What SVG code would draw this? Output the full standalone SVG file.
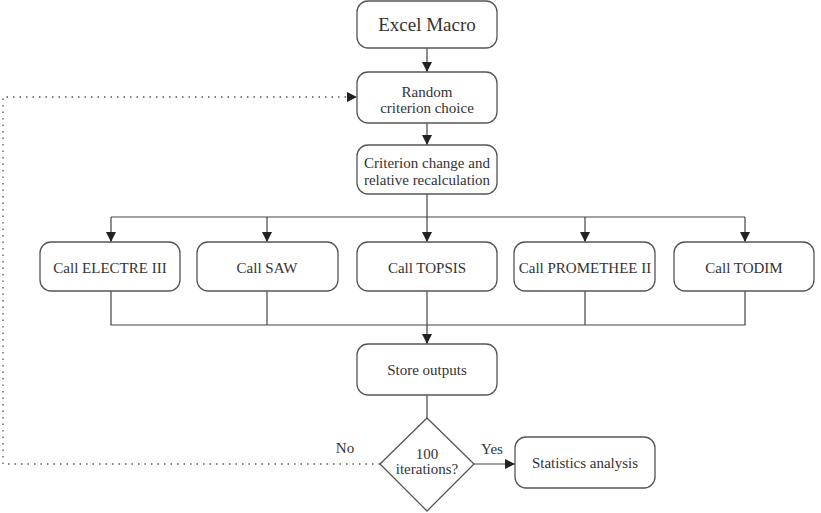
<svg xmlns="http://www.w3.org/2000/svg" width="821" height="513" viewBox="0 0 821 513">
<defs>
<marker id="ah" viewBox="0 0 10 10" refX="10" refY="5" markerWidth="10" markerHeight="10" markerUnits="userSpaceOnUse" orient="auto">
<path d="M0,0 L10,5 L0,10 z" fill="#222"/>
</marker>
</defs>
<style>
.box{fill:#fff;stroke:#555;stroke-width:1.3}
.ln{fill:none;stroke:#444;stroke-width:1.2}
.dot{fill:none;stroke:#555;stroke-width:1.3;stroke-dasharray:1.5 5}
text{font-family:'Liberation Serif','DejaVu Serif',serif;fill:#333;font-size:15px;text-anchor:middle}
</style>
<rect width="821" height="513" fill="#fff"/>
<g id="connectors">
<line class="ln" x1="427" y1="48" x2="427" y2="72" marker-end="url(#ah)"/>
<line class="ln" x1="427" y1="123" x2="427" y2="145" marker-end="url(#ah)"/>
<line class="ln" x1="427" y1="194" x2="427" y2="242" marker-end="url(#ah)"/>
<line class="ln" x1="111" y1="217" x2="745" y2="217"/>
<line class="ln" x1="111" y1="217" x2="111" y2="242" marker-end="url(#ah)"/>
<line class="ln" x1="267" y1="217" x2="267" y2="242" marker-end="url(#ah)"/>
<line class="ln" x1="585" y1="217" x2="585" y2="242" marker-end="url(#ah)"/>
<line class="ln" x1="745" y1="217" x2="745" y2="242" marker-end="url(#ah)"/>
<polyline class="ln" points="111,291 111,325 745,325 745,291"/>
<line class="ln" x1="267" y1="291" x2="267" y2="325"/>
<line class="ln" x1="585" y1="291" x2="585" y2="325"/>
<line class="ln" x1="427" y1="291" x2="427" y2="344" marker-end="url(#ah)"/>
<line class="ln" x1="427" y1="395" x2="427" y2="418"/>
<line class="ln" x1="474" y1="464" x2="515" y2="464" marker-end="url(#ah)"/>
<polyline class="dot" points="380,464 3,464 3,97 348,97"/>
<path d="M347,92 L357,97 L347,102 z" fill="#222"/>
<text x="492" y="454">Yes</text>
<text x="345" y="453">No</text>
</g>
<g id="excel"><rect class="box" x="357" y="1" width="140" height="47" rx="11"/><text x="427" y="31" style="font-size:19px">Excel Macro</text></g>
<g id="random"><rect class="box" x="357" y="72" width="140" height="51" rx="11"/><text x="427" y="97">Random</text><text x="427" y="113">criterion choice</text></g>
<g id="change"><rect class="box" x="357" y="145" width="140" height="49" rx="11"/><text x="427" y="168">Criterion change and</text><text x="427" y="185">relative recalculation</text></g>
<g id="electre"><rect class="box" x="40" y="242" width="140" height="49" rx="11"/><text x="110" y="273">Call ELECTRE III</text></g>
<g id="saw"><rect class="box" x="197" y="242" width="141" height="49" rx="11"/><text x="267" y="273">Call SAW</text></g>
<g id="topsis"><rect class="box" x="357" y="242" width="140" height="49" rx="11"/><text x="427" y="273">Call TOPSIS</text></g>
<g id="promethee"><rect class="box" x="514" y="242" width="141" height="49" rx="11"/><text x="585" y="273">Call PROMETHEE II</text></g>
<g id="todim"><rect class="box" x="674" y="242" width="140" height="49" rx="11"/><text x="744" y="273">Call TODIM</text></g>
<g id="store"><rect class="box" x="357" y="344" width="140" height="51" rx="11"/><text x="427" y="375">Store outputs</text></g>
<g id="decision"><polygon class="box" points="427,418 474,464 427,511 380,464"/><text x="427" y="459">100</text><text x="427" y="474">iterations?</text></g>
<g id="stats"><rect class="box" x="515" y="437" width="140" height="51" rx="11"/><text x="585" y="468">Statistics analysis</text></g>
</svg>
